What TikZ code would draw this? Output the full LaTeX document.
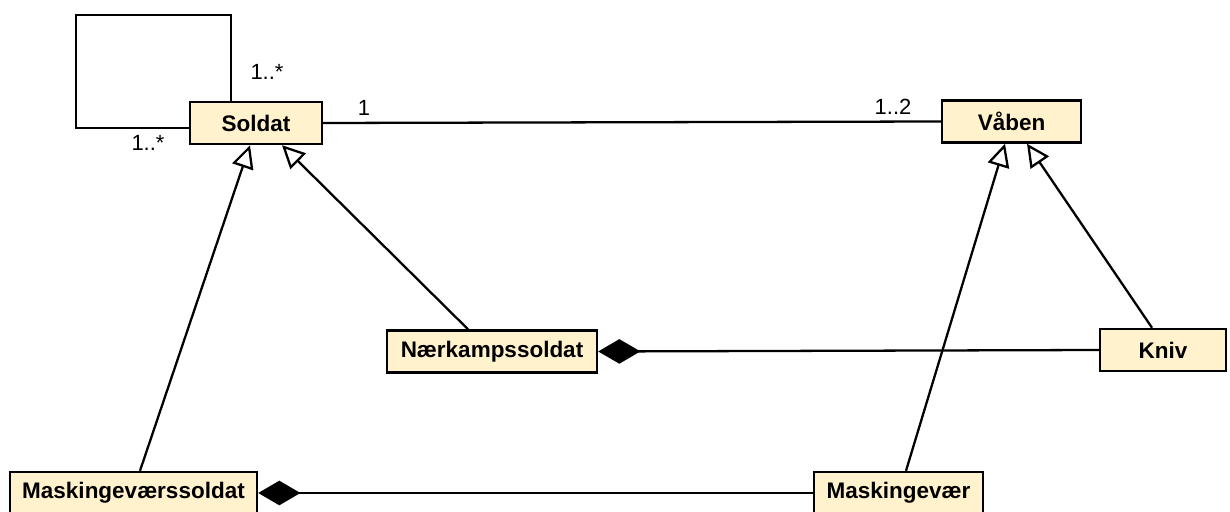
\documentclass[tikz,border=0pt]{standalone}
\usepackage{fontspec}
\setmainfont{Liberation Sans}
\usepackage{xcolor}
\definecolor{uml-fill}{HTML}{FFF2CC}
\definecolor{uml-ink}{HTML}{000000}
\usetikzlibrary{arrows.meta,positioning,calc}

\begin{document}
\begin{tikzpicture}[
    font=\fontsize{12.5}{15}\selectfont,
    cls/.style={draw=uml-ink, fill=uml-fill, line width=1.4pt, minimum height=0.84cm, inner sep=2pt, font=\fontsize{12.8}{15}\selectfont\bfseries},
    assoc/.style={draw=uml-ink, line width=1.3pt},
    gen/.style={-{Triangle[open, length=13pt, width=12.5pt, line width=1.3pt]}, draw=uml-ink, line width=1.3pt},
    comp/.style={{Diamond[length=24pt, width=14pt]}-, draw=uml-ink, line width=1.3pt},
    mult/.style={text=uml-ink, inner sep=1pt},
]
\path[use as bounding box] (0,0) rectangle (24.60,10.22);

% classes
\node[cls, minimum width=2.64cm] (soldat) at (5.12,7.76) {Soldat};
\node[cls, minimum width=2.78cm] (vaaben) at (20.23,7.79) {Våben};
\node[cls, minimum width=4.20cm] (naer) at (9.84,3.19) {Nærkampssoldat};
\node[cls, minimum width=2.52cm] (kniv) at (23.26,3.22) {Kniv};
\node[cls, minimum width=4.94cm] (mgsoldat) at (2.67,0.36) {Maskingeværssoldat};
\node[cls, minimum width=3.38cm] (mg) at (17.97,0.36) {Maskingevær};

% self association
\coordinate (looptl) at (1.52,9.92);
\draw[assoc] ([xshift=-0.50cm]soldat.north) |- (looptl) |- ([yshift=-0.10cm]soldat.west);
\node[mult] (loopm1) at (5.34,8.78) {1..*};
\node[mult] (loopm2) at (2.96,7.36) {1..*};

% soldat -- vaaben
\draw[assoc] (soldat.east) -- (vaaben.west);
\node[mult] (assm1) at (7.28,8.06) {1};
\node[mult] (assm2) at (17.86,8.08) {1..2};

% generalisations
\draw[gen] ([xshift=0.13cm]mgsoldat.north) -- ([xshift=-0.12cm]soldat.south);
\draw[gen] ([xshift=-0.48cm]naer.north) -- ([xshift=0.52cm]soldat.south);
\draw[gen] ([xshift=0.15cm]mg.north) -- ([xshift=-0.13cm]vaaben.south);
\draw[gen] ([xshift=-0.22cm]kniv.north) -- ([xshift=0.31cm]vaaben.south);

% compositions
\draw[comp] (naer.east) -- (kniv.west);
\draw[comp] (mgsoldat.east) -- (mg.west);
\end{tikzpicture}
\end{document}
